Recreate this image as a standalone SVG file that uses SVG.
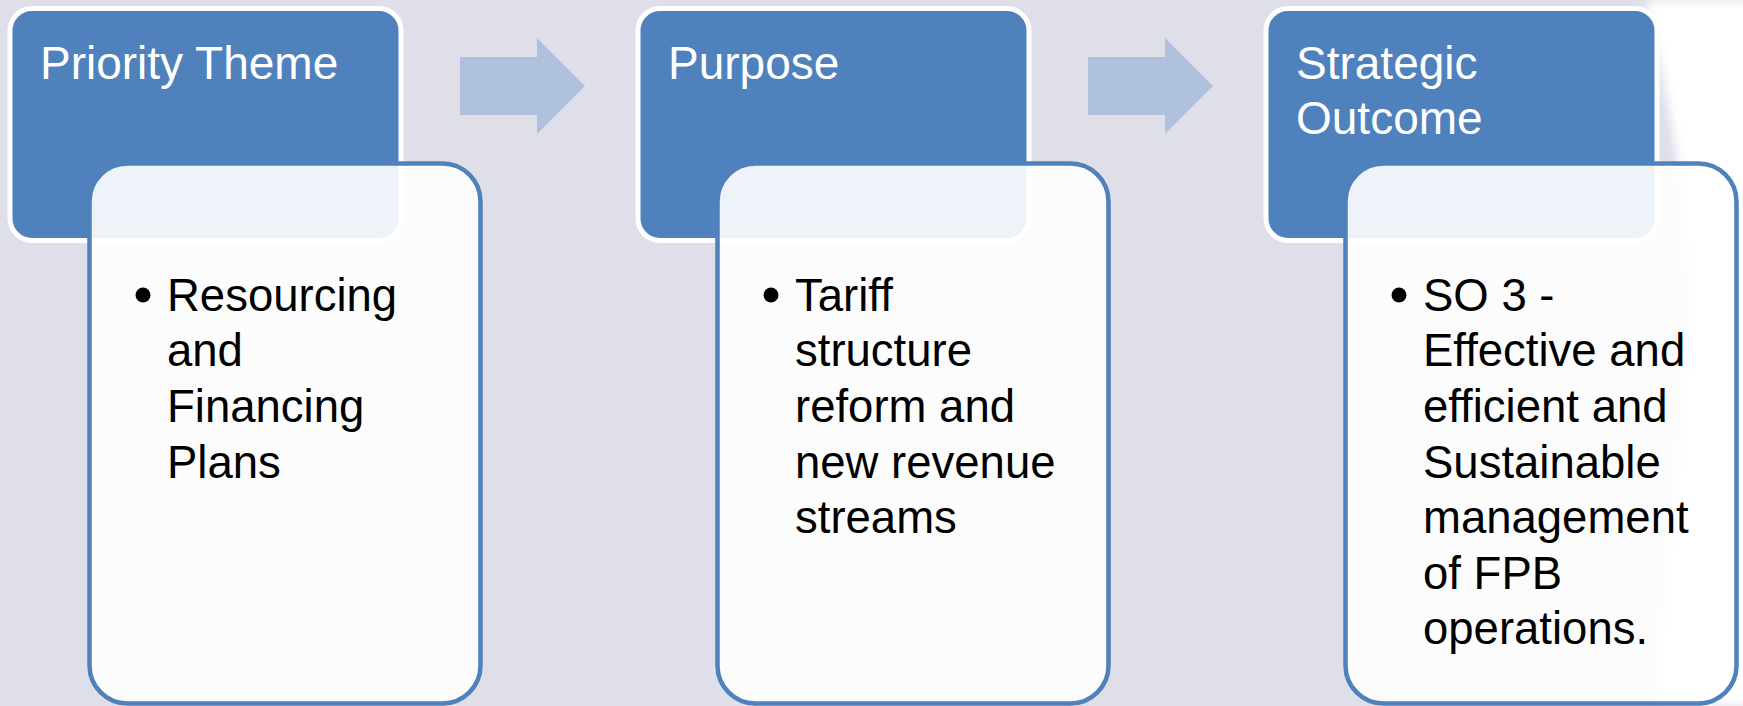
<svg xmlns="http://www.w3.org/2000/svg" width="1743" height="706" viewBox="0 0 1743 706">
  <defs>
    <style>
      .head { fill: #4F81BD; stroke: #FFFFFF; stroke-width: 5; }
      .body { fill: #FFFFFF; fill-opacity: 0.9; stroke: #4F81BD; stroke-width: 4.5; }
      .arrow { fill: #AFC0DC; }
      .htext { font-family: "Liberation Sans", Arial, sans-serif; font-size: 46px; fill: #FFFFFF; }
      .btext { font-family: "Liberation Sans", Arial, sans-serif; font-size: 45.5px; fill: #000000; }
      .dot { fill: #000000; }
    </style>
    <filter id="soft" x="-20%" y="-5%" width="140%" height="110%">
      <feGaussianBlur stdDeviation="5"/>
    </filter>
  </defs>

  <!-- slide background -->
  <rect x="0" y="0" width="1743" height="706" fill="#DFDFEA"/>
  <!-- pale sweep along the right margin -->
  <path d="M1646,0 C1672,110 1700,260 1686,380 C1678,480 1665,600 1655,706 L1760,706 L1760,0 Z" fill="#FFFFFF" filter="url(#soft)"/>

  <!-- connectors: block arrows between stages -->
  <g id="connectors">
    <polygon class="arrow" points="460,57 537,57 537,38 585,86 537,134 537,115 460,115"/>
    <polygon class="arrow" points="1088,57 1165,57 1165,38 1213,86 1165,134 1165,115 1088,115"/>
  </g>

  <!-- stage 1 -->
  <g id="priority-theme">
    <rect class="head" x="10" y="8.5" width="391" height="232" rx="22"/>
    <text class="htext" x="40" y="79">Priority Theme</text>
  </g>
  <g id="priority-theme-detail">
    <rect class="body" x="89.5" y="163.5" width="391" height="540" rx="38"/>
    <circle class="dot" cx="143" cy="295" r="7.5"/>
    <text class="btext">
      <tspan x="167" y="310.7">Resourcing</tspan>
      <tspan x="167" y="366.3">and</tspan>
      <tspan x="167" y="421.9">Financing</tspan>
      <tspan x="167" y="477.5">Plans</tspan>
    </text>
  </g>

  <!-- stage 2 -->
  <g id="purpose">
    <rect class="head" x="638" y="8.5" width="391" height="232" rx="22"/>
    <text class="htext" x="668" y="79">Purpose</text>
  </g>
  <g id="purpose-detail">
    <rect class="body" x="717.5" y="163.5" width="391" height="540" rx="38"/>
    <circle class="dot" cx="771" cy="295" r="7.5"/>
    <text class="btext">
      <tspan x="795" y="310.7">Tariff</tspan>
      <tspan x="795" y="366.3">structure</tspan>
      <tspan x="795" y="421.9">reform and</tspan>
      <tspan x="795" y="477.5">new revenue</tspan>
      <tspan x="795" y="533.1">streams</tspan>
    </text>
  </g>

  <!-- stage 3 -->
  <g id="strategic-outcome">
    <rect class="head" x="1266" y="8.5" width="391" height="232" rx="22"/>
    <text class="htext">
      <tspan x="1296" y="79">Strategic</tspan>
      <tspan x="1296" y="134.3">Outcome</tspan>
    </text>
  </g>
  <g id="strategic-outcome-detail">
    <rect class="body" x="1345.5" y="163.5" width="391" height="540" rx="38"/>
    <circle class="dot" cx="1399" cy="295" r="7.5"/>
    <text class="btext">
      <tspan x="1423" y="310.7">SO 3 -</tspan>
      <tspan x="1423" y="366.3">Effective and</tspan>
      <tspan x="1423" y="421.9">efficient and</tspan>
      <tspan x="1423" y="477.5">Sustainable</tspan>
      <tspan x="1423" y="533.1">management</tspan>
      <tspan x="1423" y="588.7">of FPB</tspan>
      <tspan x="1423" y="644.3">operations.</tspan>
    </text>
  </g>
</svg>
